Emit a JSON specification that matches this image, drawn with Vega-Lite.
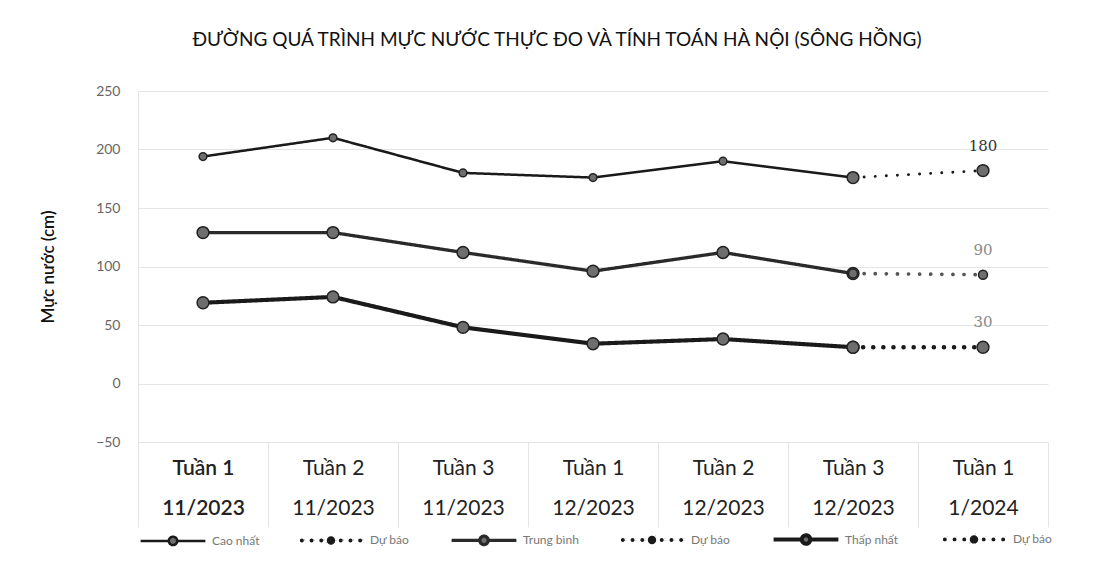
{
  "$schema": "https://vega.github.io/schema/vega-lite/v6.json",
  "width": 910,
  "height": 351,
  "autosize": {"type": "none"},
  "padding": {"left": 138, "top": 91, "right": 65, "bottom": 119},
  "background": "#ffffff",
  "config": {
    "font": "Lato",
    "view": {"stroke": null},
    "axis": {"labelFont": "Lato", "titleFont": "Lato"},
    "legend": {"labelFont": "Lato"}
  },
  "title": {
    "text": "ĐƯỜNG QUÁ TRÌNH MỰC NƯỚC THỰC ĐO VÀ TÍNH TOÁN HÀ NỘI (SÔNG HỒNG)",
    "fontSize": 19,
    "fontWeight": "normal",
    "color": "#111111",
    "anchor": "middle",
    "dx": -36,
    "offset": 34,
    "font": "Lato"
  },
  "data": {
    "values": [
      {"x": "Tuần 1|11/2023", "v": 194, "series": "Cao nhất"},
      {"x": "Tuần 2|11/2023", "v": 210, "series": "Cao nhất"},
      {"x": "Tuần 3|11/2023", "v": 180, "series": "Cao nhất"},
      {"x": "Tuần 1|12/2023", "v": 176, "series": "Cao nhất"},
      {"x": "Tuần 2|12/2023", "v": 190, "series": "Cao nhất"},
      {"x": "Tuần 3|12/2023", "v": 176, "series": "Cao nhất"},
      {"x": "Tuần 3|12/2023", "v": 176, "series": "Dự báo"},
      {"x": "Tuần 1|1/2024", "v": 182, "series": "Dự báo", "lbl": "180"},
      {"x": "Tuần 1|11/2023", "v": 129, "series": "Trung bình"},
      {"x": "Tuần 2|11/2023", "v": 129, "series": "Trung bình"},
      {"x": "Tuần 3|11/2023", "v": 112, "series": "Trung bình"},
      {"x": "Tuần 1|12/2023", "v": 96, "series": "Trung bình"},
      {"x": "Tuần 2|12/2023", "v": 112, "series": "Trung bình"},
      {"x": "Tuần 3|12/2023", "v": 94, "series": "Trung bình"},
      {"x": "Tuần 3|12/2023", "v": 94, "series": "Dự báo "},
      {"x": "Tuần 1|1/2024", "v": 93, "series": "Dự báo ", "lbl": "90"},
      {"x": "Tuần 1|11/2023", "v": 69, "series": "Thấp nhất"},
      {"x": "Tuần 2|11/2023", "v": 74, "series": "Thấp nhất"},
      {"x": "Tuần 3|11/2023", "v": 48, "series": "Thấp nhất"},
      {"x": "Tuần 1|12/2023", "v": 34, "series": "Thấp nhất"},
      {"x": "Tuần 2|12/2023", "v": 38, "series": "Thấp nhất"},
      {"x": "Tuần 3|12/2023", "v": 31, "series": "Thấp nhất"},
      {"x": "Tuần 3|12/2023", "v": 31, "series": "Dự báo  "},
      {"x": "Tuần 1|1/2024", "v": 31, "series": "Dự báo  ", "lbl": "30"}
    ]
  },
  "encoding": {
    "x": {
      "field": "x",
      "type": "nominal",
      "sort": null,
      "scale": {"type": "band", "paddingInner": 0, "paddingOuter": 0,
        "domain": ["Tuần 1|11/2023", "Tuần 2|11/2023", "Tuần 3|11/2023", "Tuần 1|12/2023", "Tuần 2|12/2023", "Tuần 3|12/2023", "Tuần 1|1/2024"]},
      "axis": {
        "title": null,
        "labelAngle": 0,
        "labelExpr": "split(datum.label, '|')",
        "labelFontSize": 21,
        "labelFontWeight": {"expr": "datum.index == 0 ? 600 : 'normal'"},
        "labelColor": "#222222",
        "labelLineHeight": 40,
        "labelPadding": -70,
        "labelBaseline": "top",
        "ticks": true,
        "tickBand": "extent",
        "tickSize": 85,
        "tickColor": "#e4e4e4",
        "domain": false,
        "grid": false
      }
    },
    "y": {
      "field": "v",
      "type": "quantitative",
      "scale": {"domain": [-50, 250], "nice": false, "zero": false},
      "axis": {
        "title": "Mực nước (cm)",
        "titleFontSize": 17,
        "titleFontWeight": 600,
        "titleColor": "#111111",
        "titlePadding": 38,
        "values": [-50, 0, 50, 100, 150, 200, 250],
        "labelFontSize": 14,
        "labelColor": "#666666",
        "labelPadding": 18,
        "ticks": false,
        "domain": true,
        "domainColor": "#e4e4e4",
        "gridColor": "#e4e4e4",
        "gridWidth": 1
      }
    }
  },
  "layer": [
    {
      "mark": {"type": "line", "strokeCap": "round"},
      "encoding": {
        "color": {
          "field": "series", "type": "nominal",
          "scale": {"domain": ["Cao nhất", "Dự báo", "Trung bình", "Dự báo ", "Thấp nhất", "Dự báo  "],
            "range": ["#1a1a1a", "#1a1a1a", "#2a2a2a", "#555555", "#1a1a1a", "#1a1a1a"]},
          "legend": {
            "title": null,
            "orient": "bottom",
            "direction": "horizontal",
            "columns": 6,
            "offset": -24,
            "symbolSize": 4200,
            "labelFontSize": 12,
            "labelColor": "#777777",
            "columnPadding": 34,
            "labelOffset": 4,
            "encode": {
              "symbols": {
                "update": {
                  "size": {"value": 4200},
                  "shape": {"signal": "indexof(datum.value, 'Dự báo') == 0 ? 'M-0.84,0A0.06,0.06 0 1,1 -0.96,0A0.06,0.06 0 1,1 -0.84,0ZM-0.54,0A0.06,0.06 0 1,1 -0.66,0A0.06,0.06 0 1,1 -0.54,0ZM-0.24,0A0.06,0.06 0 1,1 -0.36,0A0.06,0.06 0 1,1 -0.24,0ZM0.13,0A0.13,0.13 0 1,1 -0.13,0A0.13,0.13 0 1,1 0.13,0ZM0.36,0A0.06,0.06 0 1,1 0.24,0A0.06,0.06 0 1,1 0.36,0ZM0.66,0A0.06,0.06 0 1,1 0.54,0A0.06,0.06 0 1,1 0.66,0ZM0.96,0A0.06,0.06 0 1,1 0.84,0A0.06,0.06 0 1,1 0.96,0Z' : 'M-1,0H-0.13M0.13,0H1M0.13,0A0.13,0.13 0 1,1 -0.13,0A0.13,0.13 0 1,1 0.13,0Z'"},
                  "fill": {"signal": "indexof(datum.value, 'Dự báo') == 0 ? '#1a1a1a' : '#6e6e6e'"},
                  "fillOpacity": {"value": 1},
                  "strokeWidth": {"signal": "indexof(datum.value, 'Dự báo') == 0 ? 0.5 : 2.5"},
                  "strokeDash": {"value": [1, 0]}
                }
              }
            }
          }
        },
        "strokeDash": {
          "field": "series", "type": "nominal",
          "scale": {"domain": ["Cao nhất", "Dự báo", "Trung bình", "Dự báo ", "Thấp nhất", "Dự báo  "],
            "range": [[1, 0], [0.1, 11], [1, 0], [0.1, 11], [1, 0], [0.1, 10]]},
          "legend": null
        },
        "strokeWidth": {
          "field": "series", "type": "nominal",
          "scale": {"domain": ["Cao nhất", "Dự báo", "Trung bình", "Dự báo ", "Thấp nhất", "Dự báo  "],
            "range": [2.5, 4.5, 3.5, 3, 4.5, 4.5]},
          "legend": null
        }
      }
    },
    {
      "mark": {"type": "point", "filled": true, "fill": "#6e6e6e", "stroke": "#222222", "strokeWidth": 1.5, "opacity": 1},
      "encoding": {
        "detail": {"field": "series"},
        "size": {
          "condition": [
            {"test": "datum.series == 'Cao nhất'", "value": 60},
            {"test": "datum.series == 'Dự báo '", "value": 80}
          ],
          "value": 140
        }
      }
    },
    {
      "transform": [{"filter": "datum.lbl != null"}],
      "mark": {"type": "text", "dy": -25, "fontSize": 15, "font": "DejaVu Serif"},
      "encoding": {
        "text": {"field": "lbl"},
        "color": {"condition": {"test": "datum.lbl == '180'", "value": "#333333"}, "value": "#8a8a8a"}
      }
    }
  ]
}
